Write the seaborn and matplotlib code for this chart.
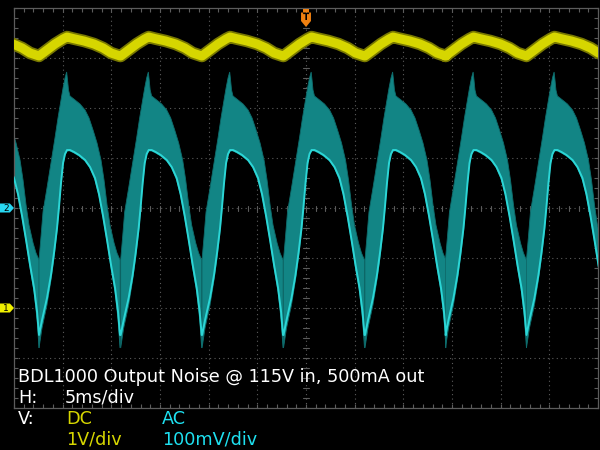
import numpy as np
import matplotlib
matplotlib.use("Agg")
import matplotlib.pyplot as plt
import matplotlib.transforms as mtransforms
from matplotlib.patches import Polygon
import seaborn as sns

# scope settings
t_div_ms = 5.0        # H: 5ms/div
ch1_v_div = 1.0       # CH1 DC 1V/div
ch2_mv_div = 100.0    # CH2 AC 100mV/div
ch1_offset_div = -2.0
ch2_offset_div = 0.0

# times of the ripple valleys (ms, trigger at 0)
valley_ms = [-35.75, -27.43, -19.04, -10.68, -2.31, 6.06, 14.33, 22.65]

# CH2 band, one ripple period (ms after valley, mV)
upper_dt = [0.0, 0.21, 0.41, 0.82, 1.23, 1.64, 1.95, 2.26, 2.47, 2.67, 2.84, 2.93, 3.03, 3.18,
            3.70, 4.21, 4.73, 5.14, 5.55, 5.96, 6.37, 6.68, 6.99, 7.29, 7.71, 8.01, 8.32]
upper_mv = [-104, -56, -8, 40, 90, 140, 180, 216, 240, 260, 272, 256, 236, 224,
            216, 208, 196, 180, 156, 130, 96, 56, 6, -34, -70, -90, -104]
lower_dt = [0.0, 0.31, 0.82, 1.23, 1.54, 1.85, 2.05, 2.26, 2.47, 2.67, 2.88, 3.18,
            3.60, 4.11, 4.73, 5.24, 5.75, 6.16, 6.58, 6.99, 7.40, 7.81, 8.12, 8.32]
lower_mv = [-280, -240, -194, -144, -100, -48, -4, 46, 86, 106, 114, 114,
            110, 104, 94, 80, 56, 24, -20, -68, -120, -168, -224, -280]
bright_mv = [-254, -224, -180, -134, -90, -40, 2, 50, 90, 108, 116, 116,
             112, 106, 96, 82, 60, 28, -16, -64, -114, -160, -208, -254]

# CH1 DC trace, one period (ms after valley, V)
ch1_dt = [0.0, 0.82, 1.64, 2.47, 2.88, 3.49, 4.62, 5.65, 6.58, 7.40, 8.32]
ch1_v = [5.04, 5.16, 5.28, 5.38, 5.42, 5.39, 5.34, 5.28, 5.20, 5.10, 5.04]

title = "BDL1000 Output Noise @ 115V in, 500mA out"

yellow = "#d6d600"
cyan_txt = "#1ee0f0"
band_col = "#128585"
bright_col = "#2cd6d6"
grid_col = "#5c5c5c"

sns.set_theme(style="dark", rc={
    "axes.facecolor": "black",
    "figure.facecolor": "black",
    "axes.edgecolor": grid_col,
    "axes.linewidth": 0.9,
})
plt.rcParams["font.family"] = ["DejaVu Sans"]

fig = plt.figure(figsize=(6, 4.5), dpi=100)
ax = fig.add_axes([14 / 600, 42 / 450, 584 / 600, 400 / 450])
ax.set_xlim(-6 * t_div_ms, 6 * t_div_ms)
ax.set_ylim(-4, 4)

# grid
for gx in np.arange(-5, 6) * t_div_ms:
    ax.axvline(gx, color=grid_col, lw=0.8, ls=(0, (1, 3)), zorder=1)
for gy in range(-3, 4):
    ax.axhline(gy, color=grid_col, lw=0.8, ls=(0, (1, 3)), zorder=1)

# border ticks
ax.set_xticks(np.arange(-6, 7) * t_div_ms)
ax.set_yticks(range(-4, 5))
ax.set_xticks(np.arange(-30, 30.01, t_div_ms / 5), minor=True)
ax.set_yticks(np.arange(-4, 4.01, 0.2), minor=True)
ax.tick_params(which="both", direction="in", length=3, width=0.8, color=grid_col,
               top=True, right=True, bottom=True, left=True,
               labelbottom=False, labelleft=False)
ax.grid(False)

# centre-line ticks
for tx in np.arange(-30, 30.01, t_div_ms / 5):
    ax.plot([tx, tx], [-0.05, 0.05], color=grid_col, lw=0.8, zorder=1)
for ty in np.arange(-4, 4.01, 0.2):
    ax.plot([-0.3, 0.3], [ty, ty], color=grid_col, lw=0.8, zorder=1)

# CH2 band
for v in valley_ms:
    xs = [v + d for d in upper_dt] + [v + d for d in lower_dt[::-1]]
    ys = [ch2_offset_div + m / ch2_mv_div for m in upper_mv] + \
         [ch2_offset_div + m / ch2_mv_div for m in lower_mv[::-1]]
    ax.fill(xs, ys, color=band_col, lw=0.6, ec="#0e6c6c", zorder=2)

bx, by, yx, yy = [], [], [], []
for v in valley_ms:
    bx += [v + d for d in lower_dt]
    by += [ch2_offset_div + m / ch2_mv_div for m in bright_mv]
    yx += [v + d for d in ch1_dt]
    yy += [ch1_offset_div + u / ch1_v_div for u in ch1_v]

sns.lineplot(x=bx, y=by, sort=False, estimator=None, color=bright_col, lw=1.4, ax=ax, zorder=3)
sns.lineplot(x=yx, y=yy, sort=False, estimator=None, color="#787800", lw=9, ax=ax, zorder=3)
sns.lineplot(x=yx, y=yy, sort=False, estimator=None, color=yellow, lw=6.5, ax=ax, zorder=4)
ax.set_xlabel("")
ax.set_ylabel("")

# channel markers on the left edge
tr_ch = mtransforms.blended_transform_factory(ax.transAxes, ax.transData)
for off, col, lab in [(ch2_offset_div, "#28d8f2", "2"), (ch1_offset_div, "#f0f000", "1")]:
    pts = [(-0.024, off - 0.09), (-0.007, off - 0.09), (0, off), (-0.007, off + 0.09), (-0.024, off + 0.09)]
    ax.add_patch(Polygon(pts, closed=True, fc=col, ec="none", transform=tr_ch, clip_on=False, zorder=5))
    ax.text(-0.0135, off, lab, transform=tr_ch, ha="center", va="center",
            fontsize=6.5, color="black", clip_on=False, zorder=6)

# trigger marker
tr_tg = mtransforms.blended_transform_factory(ax.transData, ax.transAxes)
hw = 0.51
ax.add_patch(Polygon([(-hw * 0.6, 0.9975), (hw * 0.6, 0.9975), (hw * 0.6, 0.9912), (-hw * 0.6, 0.9912)],
                     closed=True, fc="#f08010", ec="none", transform=tr_tg, clip_on=False, zorder=5))
ax.add_patch(Polygon([(-hw, 0.9887), (hw, 0.9887), (hw, 0.9675), (0, 0.9525), (-hw, 0.9675)],
                     closed=True, fc="#f08010", ec="none", transform=tr_tg, clip_on=False, zorder=5))
ax.text(0, 0.975, "T", transform=tr_tg, ha="center", va="center", fontsize=6.5,
        fontweight="bold", color="black", zorder=6)

# text block
fs = 12.7
def ftext(px, py, s, c="white"):
    fig.text(px / 600, 1 - py / 450, s, color=c, fontsize=fs, ha="left", va="baseline")

ftext(18, 382, title)
ftext(18, 403, "H:")
ftext(65, 403, "5ms/div")
ftext(18, 424, "V:")
ftext(66, 424, "DC", yellow)
ftext(162, 424, "AC", cyan_txt)
ftext(66, 444, "%dV/div" % ch1_v_div, yellow)
ftext(162, 444, "%dmV/div" % ch2_mv_div, cyan_txt)

fig.savefig("out.png", dpi=100, facecolor="black")
